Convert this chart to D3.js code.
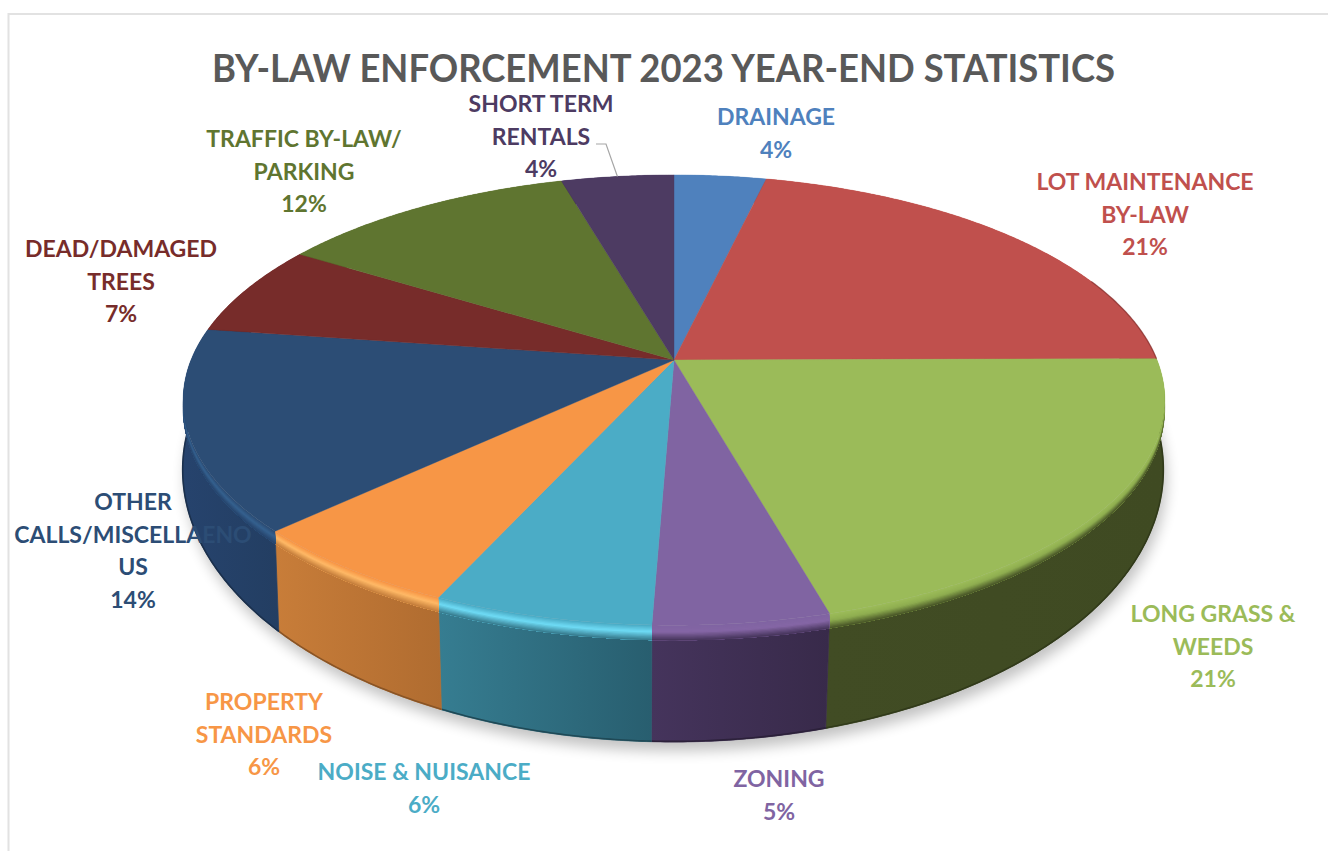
<!DOCTYPE html>
<html>
<head>
<meta charset="utf-8">
<script src="https://cdn.jsdelivr.net/npm/d3@7"></script>
<style>
  html, body { margin: 0; padding: 0; background: #fff; }
  svg { display: block; }
  text { font-family: Lato, "Open Sans", sans-serif; font-weight: 700; }
</style>
</head>
<body>
<svg id="chart" width="1328" height="851"></svg>
<script>
// Share of calls per category, in percent, clockwise from twelve o'clock.
const categories = [
  ["DRAINAGE"],
  ["LOT MAINTENANCE", "BY-LAW"],
  ["LONG GRASS &", "WEEDS"],
  ["ZONING"],
  ["NOISE & NUISANCE"],
  ["PROPERTY", "STANDARDS"],
  ["OTHER", "CALLS/MISCELLAENO", "US"],
  ["DEAD/DAMAGED", "TREES"],
  ["TRAFFIC BY-LAW/", "PARKING"],
  ["SHORT TERM", "RENTALS"]
];
const shares = [3.6, 21.3, 20.8, 4.9, 6.1, 6.2, 14.4, 6.6, 11.7, 4.4];
const chartTitle = "BY-LAW ENFORCEMENT 2023 YEAR-END STATISTICS";

// Palette: top face, rim highlight, wall left and right.
const topColors   = ["#4f81bd", "#c0504d", "#9bbb59", "#8064a2", "#4bacc6", "#f79646", "#2c4d75", "#772c2a", "#5f7530", "#4d3b62"];
const rimColors   = ["#4f81bd", "#c0504d", "#8fae50", "#8566a5", "#6fdcf6", "#ffb966", "#35618f", "#772c2a", "#5f7530", "#4d3b62"];
const wallLeft    = ["#2f4d71", "#733030", "#414c24", "#45345c", "#367d91", "#c87d39", "#26436d", "#471a19", "#39461d", "#2e233b"];
const wallRight   = ["#2f4d71", "#733030", "#3f4a22", "#382a4a", "#285e6f", "#b06c30", "#233e62", "#471a19", "#39461d", "#2e233b"];

// Label placement: centre x and the vertical centre of the first line.
const labelX = [776, 1145, 1213, 779, 424, 264, 133, 121, 304, 541];
const labelY = [116, 181, 613, 778, 771, 701, 501, 248, 138, 103];
const lineStep = 32.6;

// Perspective views of the disc: the upper face and the lower edge.
const upper = { cx: 674, cy: 360, a: 483, b: 218, k: 0.178 };
const lower = { cx: 673, cy: 426.5, a: 484, b: 265, k: 0.16 };
const bevelDepth = 0.13;

const project = (view, angle) => {
  const u = Math.sin(angle), v = Math.cos(angle), w = 1 + view.k * v;
  return [view.cx + view.a * u / w, view.cy - view.b * v / w];
};
// A point on the side of the disc, t = 0 at the upper face and 1 at the lower edge.
const sidePoint = (angle, t) => {
  const p = project(upper, angle), q = project(lower, angle);
  return [p[0] + (q[0] - p[0]) * t, p[1] + (q[1] - p[1]) * t];
};

const svg = d3.select("#chart");
const defs = svg.append("defs");
defs.append("filter").attr("id", "soft-shadow")
  .attr("x", "-10%").attr("y", "-10%").attr("width", "120%").attr("height", "120%")
  .append("feGaussianBlur").attr("stdDeviation", 7);

const slices = d3.pie().sort(null).value(d => d)(shares);
const arcAngles = s => {
  const n = Math.max(4, Math.ceil((s.endAngle - s.startAngle) / 0.008));
  return d3.range(n + 1).map(i => s.startAngle + (s.endAngle - s.startAngle) * i / n);
};
const closed = d3.line().curve(d3.curveLinearClosed);
const open = d3.line();

// Sheet outline along the top and left.
svg.append("path")
  .attr("d", open([[8.5, 851], [8.5, 14], [1328, 14]]))
  .attr("fill", "none").attr("stroke", "#e2e2e2").attr("stroke-width", 2);

// Ground shadow under the disc.
const fullTurn = d3.range(0, 360, 2).map(d => d * Math.PI / 180);
svg.append("path")
  .attr("d", closed(fullTurn.map(a => {
    const p = project(lower, a);
    return [p[0] + 3, p[1] + 9];
  })))
  .attr("fill", "#000").attr("opacity", 0.24).attr("filter", "url(#soft-shadow)");

// Wall gradients.
slices.forEach((s, i) => {
  const g = defs.append("linearGradient").attr("id", `wall-${i}`)
    .attr("x1", 0).attr("x2", 1).attr("y1", 0).attr("y2", 0);
  g.append("stop").attr("offset", 0).attr("stop-color", wallLeft[i]);
  g.append("stop").attr("offset", 1).attr("stop-color", wallRight[i]);
});

const band = (s, t0, t1) => {
  const angles = arcAngles(s);
  return closed([
    ...angles.map(a => sidePoint(a, t0)),
    ...angles.slice().reverse().map(a => sidePoint(a, t1))
  ]);
};

// Outer walls.
const walls = svg.append("g");
slices.forEach((s, i) => {
  walls.append("path")
    .attr("d", band(s, bevelDepth * 0.9, 1))
    .attr("fill", `url(#wall-${i})`)
    .attr("stroke", `url(#wall-${i})`).attr("stroke-width", 0.7);
  walls.append("path")
    .attr("d", open(arcAngles(s).map(a => sidePoint(a, 0.995))))
    .attr("fill", "none")
    .attr("stroke", d3.color(wallRight[i]).darker(0.7))
    .attr("stroke-width", 1.6);
});

// Rounded bevel between face and wall, built from nested strips.
const bevel = svg.append("g");
const bevelSteps = 12;
slices.forEach((s, i) => {
  const wallMid = d3.interpolateRgb(wallLeft[i], wallRight[i])(0.5);
  const toRim = d3.interpolateRgb(topColors[i], rimColors[i]);
  const toWall = d3.interpolateRgb(rimColors[i], wallMid);
  d3.range(bevelSteps).forEach(j => {
    const f = j / bevelSteps;
    const colour = f < 0.4 ? toRim(f / 0.4) : toWall((f - 0.4) / 0.6);
    bevel.append("path")
      .attr("d", band(s, f * bevelDepth, bevelDepth))
      .attr("fill", colour);
  });
});

// Upper faces.
const faces = svg.append("g");
slices.forEach((s, i) => {
  const rim = arcAngles(s).map(a => project(upper, a));
  faces.append("path")
    .attr("d", closed([[upper.cx, upper.cy], ...rim]))
    .attr("fill", topColors[i])
    .attr("stroke", topColors[i]).attr("stroke-width", 0.4);
});
// Dark back edge on the lot maintenance slice, fading out towards the top.
faces.append("path")
  .attr("d", open(arcAngles({ startAngle: slices[1].startAngle + 0.95, endAngle: slices[1].endAngle }).map(a => project(upper, a))))
  .attr("fill", "none").attr("stroke", "#7f2f2d").attr("stroke-width", 1.4).attr("opacity", 0.6);

// Leader line from the short term rentals label to its slice.
const shortTerm = slices[9];
const leaderEnd = project(upper, (shortTerm.startAngle + shortTerm.endAngle) / 2);
svg.append("path")
  .attr("d", open([[labelX[9] + 55, labelY[9] + 41], [labelX[9] + 65, labelY[9] + 41], leaderEnd]))
  .attr("fill", "none").attr("stroke", "#a6a6a6").attr("stroke-width", 1.2);

// Data labels.
const labels = svg.append("g").attr("font-size", 23).attr("text-anchor", "middle");
slices.forEach((s, i) => {
  const lines = [...categories[i], `${Math.round(shares[i])}%`];
  const t = labels.append("text").attr("fill", topColors[i]);
  lines.forEach((line, j) => {
    t.append("tspan")
      .attr("x", labelX[i])
      .attr("y", labelY[i] + j * lineStep + 9)
      .text(line);
  });
});

// Title.
svg.append("text")
  .attr("x", 663.5).attr("y", 82)
  .attr("text-anchor", "middle")
  .attr("font-size", 38)
  .attr("textLength", 903)
  .attr("lengthAdjust", "spacingAndGlyphs")
  .attr("fill", "#595959")
  .text(chartTitle);
</script>
</body>
</html>
